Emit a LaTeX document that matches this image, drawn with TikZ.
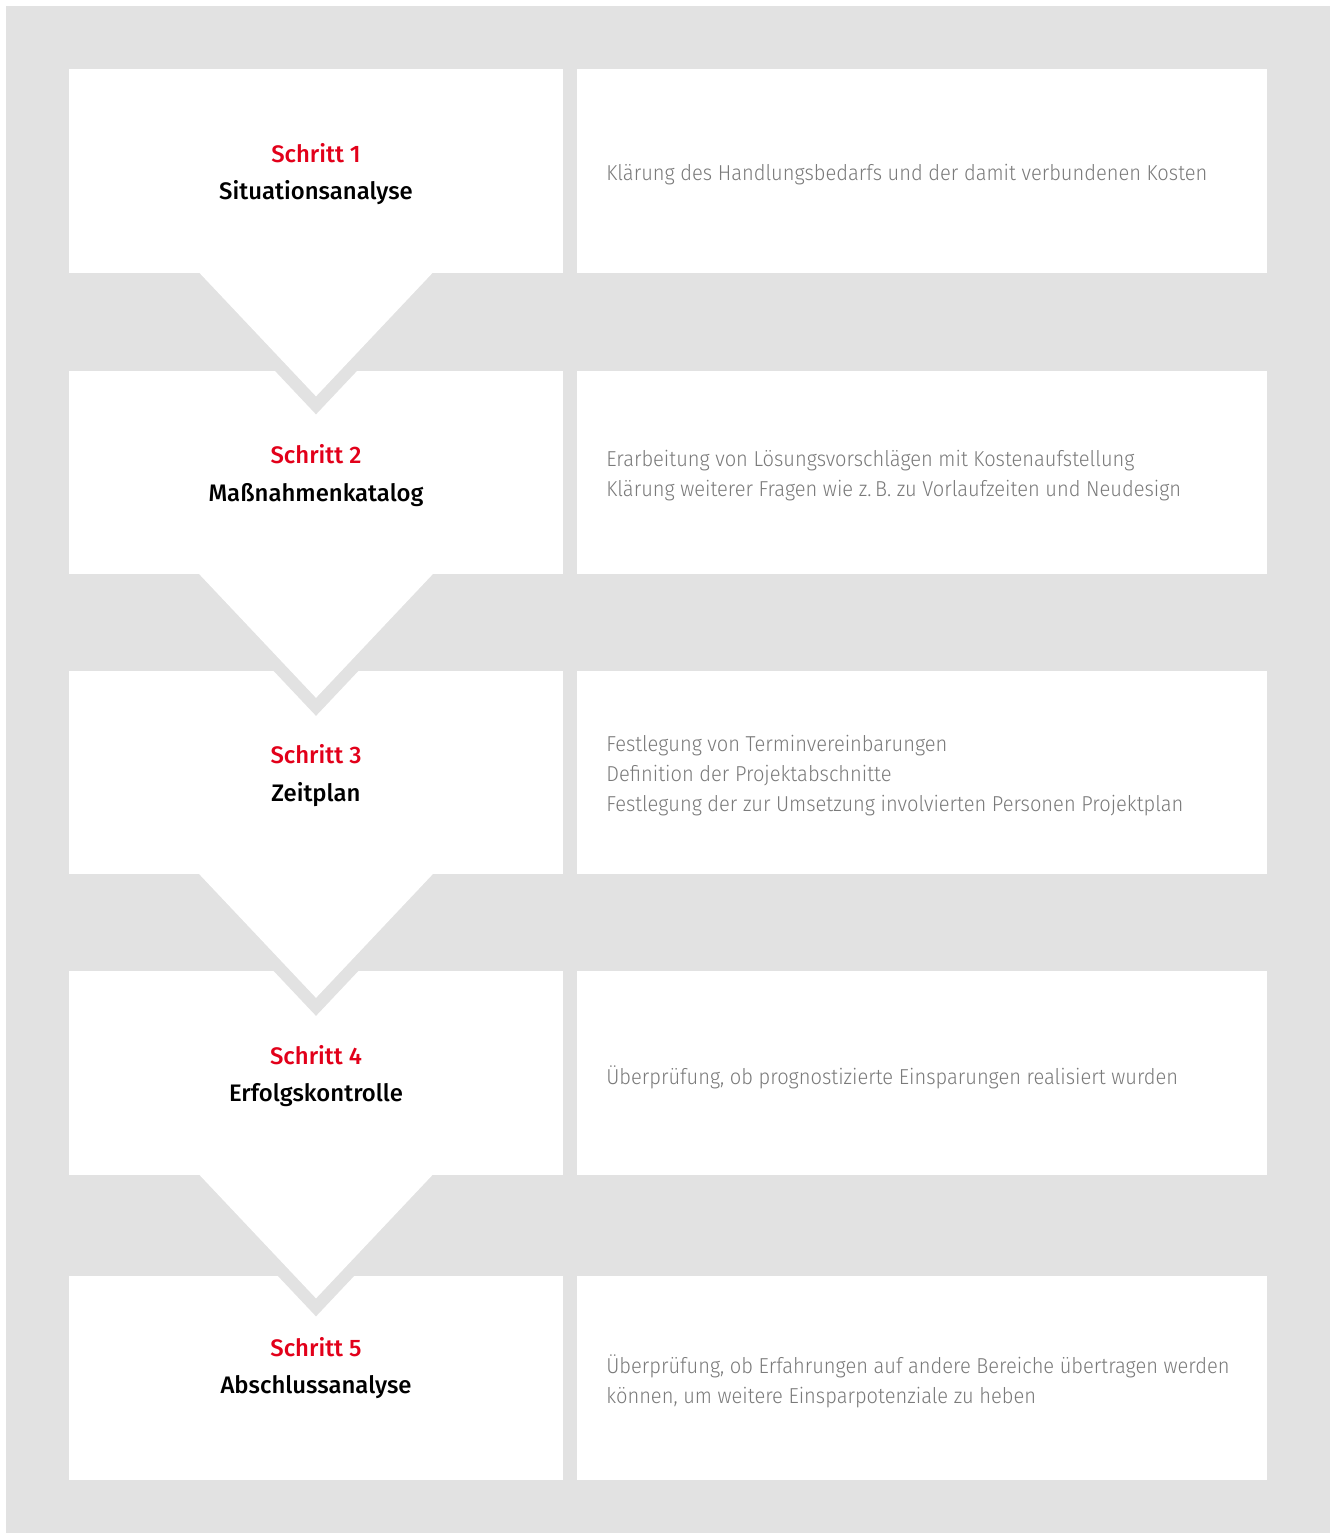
\documentclass[tikz,border=0pt]{standalone}
\usepackage{fontspec}
\setmainfont{Fira Sans}
\newfontfamily\headfont{Fira Sans Medium}
\newfontfamily\descfont{Fira Sans Light}[FakeStretch=0.93]
\usetikzlibrary{positioning}

\definecolor{panelgray}{HTML}{E2E2E2}
\definecolor{stepred}{HTML}{E2001A}
\definecolor{descgray}{HTML}{7A7A7A}

\tikzset{
  stepbox/.style={fill=white, minimum width=9.88cm, minimum height=4.08cm, inner sep=0pt},
  steptext/.style={align=center, inner sep=0pt, font=\headfont\fontsize{13.6}{21.5}\selectfont},
  infobox/.style={fill=white, minimum width=13.8cm, minimum height=4.08cm, inner sep=0pt},
  desc/.style={anchor=west, align=left, text=descgray, inner sep=0pt,
    font=\descfont\fontsize{12.3}{17.1}\selectfont},
}

\begin{document}
\begin{tikzpicture}[x=0.02cm, y=-0.02cm]
                \useasboundingbox (0,0) rectangle (1335,1533);
                \fill[panelgray] (6,6) rectangle (1330,1533);
                % left column: steps
                \node[stepbox] (s1) at (316,171)    {};
                \node[stepbox] (s2) at (316,472.5)  {};
                \node[stepbox] (s3) at (316,772.5)  {};
                \node[stepbox] (s4) at (316,1073)   {};
                \node[stepbox] (s5) at (316,1378)   {};
                % right column: descriptions
                \node[infobox] (i1) at (922,171)    {};
                \node[infobox] (i2) at (922,472.5)  {};
                \node[infobox] (i3) at (922,772.5)  {};
                \node[infobox] (i4) at (922,1073)   {};
                \node[infobox] (i5) at (922,1378)   {};
                % chevrons between the steps
                \foreach \s in {s1,s2,s3,s4} {
                  \fill[panelgray] (\s.south) ++(-133,0) -- ++(133,141) -- ++(133,-141) -- cycle;
                  \fill[white] (\s.south) ++(-118,-2) -- ++(118,125) -- ++(118,-125) -- cycle;
                }
                % texts
                \node[steptext] (t1) at (316,174)    {\textcolor{stepred}{Schritt 1}\\Situationsanalyse};
                \node[steptext] (t2) at (316,475.5)  {\textcolor{stepred}{Schritt 2}\\Maßnahmenkatalog};
                \node[steptext] (t3) at (316,775.5)  {\textcolor{stepred}{Schritt 3}\\Zeitplan};
                \node[steptext] (t4) at (316,1076)   {\textcolor{stepred}{Schritt 4}\\Erfolgskontrolle};
                \node[steptext] (t5) at (316,1368)   {\textcolor{stepred}{Schritt 5}\\Abschlussanalyse};
                \node[desc] (d1) at (606,175)   {Klärung des Handlungsbedarfs und der damit verbundenen Kosten};
                \node[desc] (d2) at (606,476)   {Erarbeitung von Lösungsvorschlägen mit Kostenaufstellung\\Klärung weiterer Fragen wie z.\,B. zu Vorlaufzeiten und Neudesign};
                \node[desc] (d3) at (606,776)   {Festlegung von Terminvereinbarungen\\Definition der Projektabschnitte\\Festlegung der zur Umsetzung involvierten Personen Projektplan};
                \node[desc] (d4) at (606,1077)  {Überprüfung, ob prognostizierte Einsparungen realisiert wurden};
                \node[desc] (d5) at (606,1381)  {Überprüfung, ob Erfahrungen auf andere Bereiche übertragen werden\\können, um weitere Einsparpotenziale zu heben};
            \end{tikzpicture}
\end{document}
